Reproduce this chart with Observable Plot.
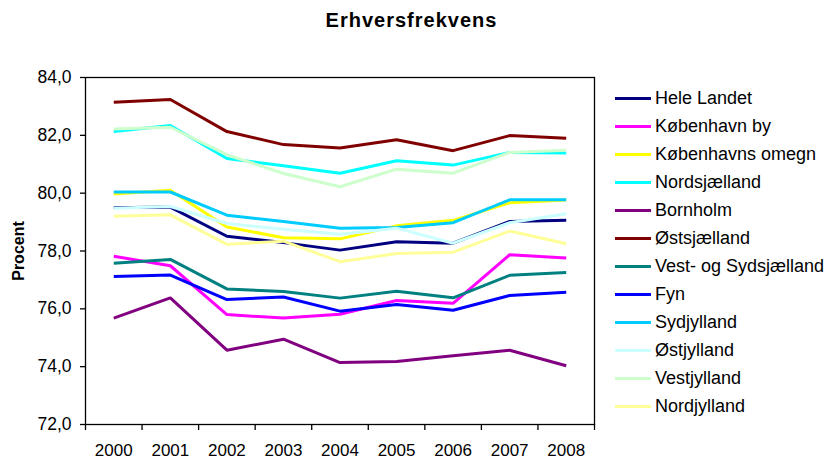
<!DOCTYPE html>
<html>
<head>
<meta charset="utf-8">
<script src="https://cdn.jsdelivr.net/npm/d3@7"></script>
<script src="https://cdn.jsdelivr.net/npm/@observablehq/plot@0.6"></script>
<style>
  html, body { margin: 0; padding: 0; background: #fff; }
  body { width: 831px; height: 459px; position: relative; overflow: hidden; font-family: "Liberation Sans", Arial, sans-serif; }
  #title { position: absolute; left: 0; width: 823px; top: 10px; text-align: center; font-weight: bold; font-size: 20px; line-height: 20px; letter-spacing: 1px; color: #000; }
  #chart { position: absolute; left: 0; top: 0; }
  #legend { position: absolute; left: 615px; top: 84px; }
  .row { display: flex; align-items: center; height: 28.03px; }
  .sw { width: 36px; height: 3px; margin-right: 4px; }
  .lab { font-size: 18px; line-height: 18px; color: #000; white-space: nowrap; }
</style>
</head>
<body>
<div id="chart"></div>
<div id="title">Erhversfrekvens</div>
<div id="legend"></div>
<script>
const years = [2000, 2001, 2002, 2003, 2004, 2005, 2006, 2007, 2008];
const seriesNames = ["Hele Landet", "København by", "Københavns omegn", "Nordsjælland", "Bornholm", "Østsjælland", "Vest- og Sydsjælland", "Fyn", "Sydjylland", "Østjylland", "Vestjylland", "Nordjylland"];
const seriesColors = ["#000080", "#FF00FF", "#FFFF00", "#00FFFF", "#800080", "#800000", "#008080", "#0000FF", "#00CCFF", "#CCFFFF", "#CCFFCC", "#FFFF99"];

const heleLandet      = [79.50, 79.52, 78.51, 78.29, 78.03, 78.32, 78.27, 79.02, 79.06];
const kobenhavnBy     = [77.82, 77.49, 75.80, 75.68, 75.81, 76.29, 76.19, 77.87, 77.76];
const kobenhavnsOmegn = [79.97, 80.10, 78.83, 78.46, 78.42, 78.87, 79.06, 79.67, 79.76];
const nordsjaelland   = [82.13, 82.34, 81.20, 80.95, 80.69, 81.12, 80.97, 81.41, 81.39];
const bornholm        = [75.68, 76.38, 74.57, 74.95, 74.14, 74.18, 74.38, 74.57, 74.03];
const ostsjaelland    = [83.14, 83.24, 82.13, 81.68, 81.56, 81.85, 81.47, 81.99, 81.90];
const vestSydsjaelland= [77.58, 77.71, 76.69, 76.60, 76.37, 76.61, 76.38, 77.16, 77.26];
const fyn             = [77.12, 77.17, 76.32, 76.41, 75.92, 76.15, 75.95, 76.46, 76.57];
const sydjylland      = [80.04, 80.04, 79.24, 79.02, 78.79, 78.81, 78.98, 79.77, 79.77];
const ostjylland      = [79.48, 79.54, 78.95, 78.75, 78.58, 78.79, 78.27, 78.98, 79.29];
const vestjylland     = [82.22, 82.28, 81.33, 80.68, 80.22, 80.83, 80.69, 81.41, 81.48];
const nordjylland     = [79.20, 79.25, 78.23, 78.34, 77.63, 77.91, 77.96, 78.69, 78.25];

const seriesValues = [heleLandet, kobenhavnBy, kobenhavnsOmegn, nordsjaelland, bornholm, ostsjaelland, vestSydsjaelland, fyn, sydjylland, ostjylland, vestjylland, nordjylland];

const yTicks = [72, 74, 76, 78, 80, 82, 84];
const xBoundaries = [1999.5, 2000.5, 2001.5, 2002.5, 2003.5, 2004.5, 2005.5, 2006.5, 2007.5, 2008.5];

const data = [];
seriesNames.forEach((name, i) => {
  years.forEach((yr, j) => data.push({series: name, year: yr, value: seriesValues[i][j]}));
});

const fmt = d => d.toFixed(1).replace(".", ",");

const chart = Plot.plot({
  width: 600,
  height: 459,
  marginLeft: 85,
  marginRight: 6,
  marginTop: 77,
  marginBottom: 35,
  style: {fontFamily: '"Liberation Sans", Arial, sans-serif', fontSize: "17px", color: "#000", background: "#fff", overflow: "visible"},
  x: {domain: [1999.5, 2008.5]},
  y: {domain: [72, 84]},
  color: {domain: seriesNames, range: seriesColors},
  marks: [
    Plot.lineY(data, {x: "year", y: "value", z: "series", stroke: "series", strokeWidth: 3, strokeLinejoin: "miter", strokeLinecap: "butt"}),
    Plot.frame({stroke: "#000", strokeWidth: 1.3}),
    Plot.axisY({ticks: yTicks, tickFormat: fmt, tickSize: 5, tickPadding: 9, label: null, strokeWidth: 1.3, fontSize: 17.5}),
    Plot.axisX({ticks: xBoundaries, tickFormat: () => "", tickSize: 6, label: null, strokeWidth: 1.3}),
    Plot.axisX({ticks: years, tickFormat: d => String(d), tickSize: 0, tickPadding: 19, label: null, fontSize: 17}),
    Plot.text(["Procent"], {frameAnchor: "left", textAnchor: "middle", dx: -67, rotate: -90, fontWeight: "bold", fontSize: 16})
  ]
});
document.getElementById("chart").appendChild(chart);

const legend = document.getElementById("legend");
seriesNames.forEach((name, i) => {
  const row = document.createElement("div");
  row.className = "row";
  const sw = document.createElement("div");
  sw.className = "sw";
  sw.style.background = seriesColors[i];
  const lab = document.createElement("div");
  lab.className = "lab";
  lab.textContent = name;
  row.appendChild(sw);
  row.appendChild(lab);
  legend.appendChild(row);
});
</script>
</body>
</html>
